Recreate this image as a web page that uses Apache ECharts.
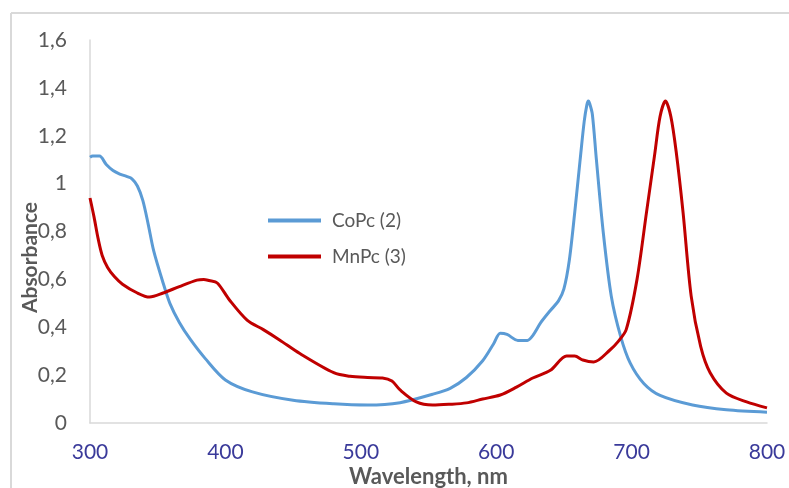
<!DOCTYPE html>
<html>
<head>
<meta charset="utf-8">
<script src="https://cdn.jsdelivr.net/npm/echarts@6/dist/echarts.min.js"></script>
<style>
  html, body { margin: 0; padding: 0; background: #fff; }
  #chart { width: 789px; height: 488px; }
</style>
</head>
<body>
<div id="chart"></div>
<script>
// wavelength (nm) / absorbance pairs
const coPcWave = [300, 302, 307, 312, 317, 322, 327, 331, 335, 339, 343, 347, 354, 359, 366, 374, 385, 400, 420, 450, 480, 505, 529, 553, 566, 578, 590, 598, 603, 608, 616, 623, 627, 633, 640, 646, 650, 654, 658, 662, 665, 667, 668, 669, 671, 674, 679, 685, 692, 699, 709, 721, 745, 770, 800]
const coPcAbs = [1.11, 1.115, 1.115, 1.08, 1.055, 1.04, 1.03, 1.02, 0.99, 0.93, 0.83, 0.72, 0.585, 0.50, 0.42, 0.35, 0.27, 0.18, 0.13, 0.095, 0.08, 0.075, 0.085, 0.12, 0.145, 0.19, 0.26, 0.33, 0.375, 0.37, 0.345, 0.345, 0.365, 0.42, 0.47, 0.51, 0.56, 0.68, 0.88, 1.1, 1.26, 1.33, 1.345, 1.335, 1.29, 1.1, 0.80, 0.53, 0.36, 0.25, 0.165, 0.115, 0.075, 0.055, 0.045]

const mnPcWave = [300, 303, 306, 309, 313, 318, 324, 335, 344, 354, 366, 379, 384, 388, 394, 403, 416, 428, 440, 455, 480, 492, 505, 516, 523, 529, 541, 553, 565, 578, 590, 603, 615, 627, 640, 652, 658, 664, 672, 684, 690, 696, 704, 711, 717, 721, 725, 729, 733, 738, 744, 751, 758, 770, 785, 800]
const mnPcAbs = [0.94, 0.86, 0.77, 0.70, 0.65, 0.612, 0.58, 0.543, 0.526, 0.543, 0.57, 0.597, 0.60, 0.595, 0.585, 0.514, 0.43, 0.39, 0.347, 0.29, 0.21, 0.195, 0.19, 0.188, 0.175, 0.138, 0.088, 0.075, 0.078, 0.084, 0.1, 0.117, 0.15, 0.188, 0.22, 0.28, 0.28, 0.263, 0.255, 0.305, 0.34, 0.39, 0.60, 0.88, 1.12, 1.28, 1.345, 1.28, 1.13, 0.88, 0.53, 0.32, 0.21, 0.125, 0.088, 0.063]

const seriesNames = ['CoPc (2)', 'MnPc (3)']

const pairs = (xs, ys) => xs.map((x, i) => [x, ys[i]])

const chart = echarts.init(document.getElementById('chart'))

chart.setOption({
    backgroundColor: '#fff',
    textStyle: { fontFamily: 'Lato' },
    grid: { left: 90, right: 22, top: 40, bottom: 65, outerBoundsMode: 'none' },
    graphic: [
        { type: 'line', shape: { x1: 11, y1: 13, x2: 789, y2: 13 }, style: { stroke: '#D9D9D9', lineWidth: 2 } },
        { type: 'line', shape: { x1: 11, y1: 13, x2: 11, y2: 488 }, style: { stroke: '#D9D9D9', lineWidth: 2 } }
    ],
    legend: {
        orient: 'vertical',
        left: 263,
        top: 205,
        icon: 'rect',
        itemWidth: 53,
        itemHeight: 4,
        itemGap: 15,
        textStyle: { fontSize: 19, color: '#595959', lineHeight: 21, padding: [0, 0, 0, 6] },
        data: seriesNames
    },
    xAxis: {
        type: 'value',
        min: 300,
        max: 800,
        interval: 100,
        name: 'Wavelength, nm',
        nameLocation: 'middle',
        nameGap: 43,
        nameMoveOverlap: false,
        nameTextStyle: { fontSize: 22, fontWeight: 'bold', color: '#595959' },
        axisLine: { lineStyle: { color: '#D9D9D9', width: 1.5 } },
        axisTick: { show: false },
        splitLine: { show: false },
        axisLabel: { fontSize: 21, color: '#3A3A9A', margin: 19 }
    },
    yAxis: {
        type: 'value',
        min: 0,
        max: 1.6,
        interval: 0.2,
        name: 'Absorbance',
        nameLocation: 'middle',
        nameGap: 49,
        nameMoveOverlap: false,
        nameTextStyle: { fontSize: 21, fontWeight: 'bold', color: '#595959', padding: [0, 52, 0, 0] },
        axisLine: { show: true, lineStyle: { color: '#D9D9D9', width: 1.5 } },
        axisTick: { show: false },
        splitLine: { show: false },
        axisLabel: {
            fontSize: 21,
            color: '#595959',
            margin: 23,
            formatter: v => String(Math.round(v * 10) / 10).replace('.', ',')
        }
    },
    series: [
        {
            name: seriesNames[0],
            type: 'line',
            data: pairs(coPcWave, coPcAbs),
            showSymbol: false,
            smooth: 0.3,
            lineStyle: { color: '#5B9BD5', width: 3 },
            itemStyle: { color: '#5B9BD5' }
        },
        {
            name: seriesNames[1],
            type: 'line',
            data: pairs(mnPcWave, mnPcAbs),
            showSymbol: false,
            smooth: 0.3,
            lineStyle: { color: '#C00000', width: 3 },
            itemStyle: { color: '#C00000' }
        }
    ]
})
</script>
</body>
</html>
